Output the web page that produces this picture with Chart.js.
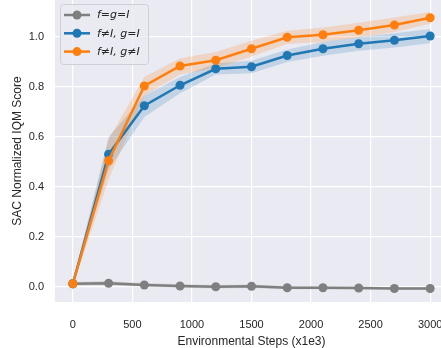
<!DOCTYPE html>
<html>
<head>
  <title>SAC Normalized IQM Score</title>
  <script src="https://cdn.jsdelivr.net/npm/chart.js"></script>
  <style>
    html, body {
      margin: 0;
      padding: 0;
      background: #ffffff;
      overflow: hidden;
    }
    #wrap {
      width: 448px;
      height: 348px;
    }
  </style>
</head>
<body>
  <div id="wrap">
    <canvas id="iqmChart" width="448" height="348"></canvas>
  </div>

  <script>
    // datos
    const steps = [0, 300, 600, 900, 1200, 1500, 1800, 2100, 2400, 2700, 3000];
    const xTicks = [0, 500, 1000, 1500, 2000, 2500, 3000];
    const yTicks = [0.0, 0.2, 0.4, 0.6, 0.8, 1.0];

    const seriesNames = ['f=g=I', 'f≠I, g=I', 'f≠I, g≠I'];

    const sameMean  = [0.013, 0.015, 0.008, 0.004, 0.001, 0.003, -0.003, -0.003, -0.004, -0.006, -0.006];
    const sameLow   = [0.006, 0.006, 0.001, -0.003, -0.006, -0.004, -0.009, -0.009, -0.010, -0.011, -0.011];
    const sameHigh  = [0.020, 0.024, 0.016, 0.011, 0.008, 0.010, 0.003, 0.003, 0.002, 0.000, 0.000];

    const fMean  = [0.013, 0.531, 0.725, 0.807, 0.873, 0.881, 0.926, 0.953, 0.973, 0.987, 1.004];
    const fLow   = [0.005, 0.470, 0.680, 0.775, 0.850, 0.855, 0.900, 0.925, 0.945, 0.958, 0.975];
    const fHigh  = [0.021, 0.600, 0.765, 0.840, 0.895, 0.905, 0.950, 0.980, 1.000, 1.015, 1.032];

    const fgMean = [0.013, 0.505, 0.804, 0.884, 0.907, 0.953, 0.999, 1.009, 1.027, 1.048, 1.077];
    const fgLow  = [0.005, 0.430, 0.765, 0.850, 0.875, 0.922, 0.972, 0.980, 0.998, 1.020, 1.053];
    const fgHigh = [0.021, 0.590, 0.840, 0.915, 0.940, 0.985, 1.025, 1.038, 1.057, 1.078, 1.100];

    const colorGray = '#7f7f7f';
    const colorBlue = '#1f77b4';
    const colorOrange = '#ff7f0e';

    function pts(vals) {
      return steps.map((x, i) => ({ x: x, y: vals[i] }));
    }

    function lineSet(label, vals, color, order) {
      return {
        label: label,
        data: pts(vals),
        borderColor: color,
        backgroundColor: color,
        borderWidth: 2.5,
        pointRadius: 4.5,
        pointBorderWidth: 0,
        pointBackgroundColor: color,
        fill: false,
        order: order
      };
    }

    function bandSet(vals, fillColor, fillTo, order) {
      return {
        label: '',
        data: pts(vals),
        borderWidth: 0,
        pointRadius: 0,
        borderColor: 'rgba(0,0,0,0)',
        backgroundColor: fillColor,
        fill: fillTo,
        order: order,
        isBand: true
      };
    }

    // fondo gris del área de trazado
    const plotBackground = {
      id: 'plotBackground',
      beforeDraw(chart) {
        const a = chart.chartArea;
        const ctx = chart.ctx;
        ctx.save();
        ctx.fillStyle = '#eaeaf2';
        ctx.fillRect(a.left, a.top, a.right - a.left, a.bottom - a.top);
        ctx.restore();
      }
    };

    // leyenda dentro del gráfico (arriba a la izquierda), en el orden de seriesNames
    const insideLegend = {
      id: 'insideLegend',
      afterDraw(chart) {
        const ctx = chart.ctx;
        const lines = seriesNames.map(n => chart.data.datasets.find(d => d.label === n));
        const x0 = 60, y0 = 4, w = 88, h = 60;
        ctx.save();
        ctx.beginPath();
        ctx.roundRect(x0 + 0.5, y0 + 0.5, w, h, 3);
        ctx.fillStyle = 'rgba(234,234,242,0.8)';
        ctx.fill();
        ctx.strokeStyle = '#cfcfd6';
        ctx.lineWidth = 1;
        ctx.stroke();
        lines.forEach((ds, i) => {
          const y = 15 + i * 18.3;
          ctx.strokeStyle = ds.borderColor;
          ctx.lineWidth = 2.5;
          ctx.beginPath();
          ctx.moveTo(64, y);
          ctx.lineTo(90, y);
          ctx.stroke();
          ctx.fillStyle = ds.borderColor;
          ctx.beginPath();
          ctx.arc(77, y, 4.5, 0, Math.PI * 2);
          ctx.fill();
          ctx.fillStyle = '#262626';
          ctx.font = 'italic 11px "DejaVu Sans"';
          ctx.textBaseline = 'middle';
          ctx.fillText(ds.label, 97, y + 0.5);
        });
        ctx.restore();
      }
    };

    const ctx = document.getElementById('iqmChart').getContext('2d');
    const iqmChart = new Chart(ctx, {
      type: 'line',
      data: {
        datasets: [
          lineSet(seriesNames[2], fgMean, colorOrange, 1),
          lineSet(seriesNames[1], fMean, colorBlue, 2),
          lineSet(seriesNames[0], sameMean, colorGray, 3),
          bandSet(fgHigh, 'rgba(255,127,14,0.2)', '+1', 4),
          bandSet(fgLow, 'rgba(0,0,0,0)', false, 4),
          bandSet(fHigh, 'rgba(31,119,180,0.2)', '+1', 5),
          bandSet(fLow, 'rgba(0,0,0,0)', false, 5),
          bandSet(sameHigh, 'rgba(127,127,127,0.2)', '+1', 6),
          bandSet(sameLow, 'rgba(0,0,0,0)', false, 6)
        ]
      },
      options: {
        responsive: false,
        animation: false,
        layout: { padding: 0, autoPadding: false },
        plugins: {
          legend: { display: false },
          tooltip: { enabled: false }
        },
        scales: {
          x: {
            type: 'linear',
            min: -150,
            max: 3150,
            afterBuildTicks: s => { s.ticks = xTicks.map(v => ({ value: v })); },
            afterFit: s => {
              s.height = 46;
              s.paddingLeft = 0;
              s.paddingRight = 0;
            },
            grid: { color: '#ffffff', lineWidth: 1.2, drawTicks: false },
            border: { display: false },
            ticks: {
              color: '#262626',
              font: { family: 'Liberation Sans', size: 11 },
              padding: 16,
              maxRotation: 0,
              callback: v => String(v)
            },
            title: {
              display: true,
              text: 'Environmental Steps (x1e3)',
              color: '#262626',
              font: { family: 'Liberation Sans', size: 12, lineHeight: 1.0 },
              padding: { top: 0, bottom: 0 }
            }
          },
          y: {
            min: -0.06,
            max: 1.148,
            afterBuildTicks: s => { s.ticks = yTicks.map(v => ({ value: v })); },
            afterFit: s => {
              s.width = 55;
              s.paddingTop = 0;
              s.paddingBottom = 0;
            },
            grid: { color: '#ffffff', lineWidth: 1.2, drawTicks: false },
            border: { display: false },
            ticks: {
              color: '#262626',
              font: { family: 'Liberation Sans', size: 11 },
              padding: 11,
              callback: v => v.toFixed(1)
            },
            title: {
              display: true,
              text: 'SAC Normalized IQM Score',
              color: '#262626',
              font: { family: 'Liberation Sans', size: 12 },
              padding: { top: 10, bottom: 0 }
            }
          }
        }
      },
      plugins: [plotBackground, insideLegend]
    });
  </script>
</body>
</html>
